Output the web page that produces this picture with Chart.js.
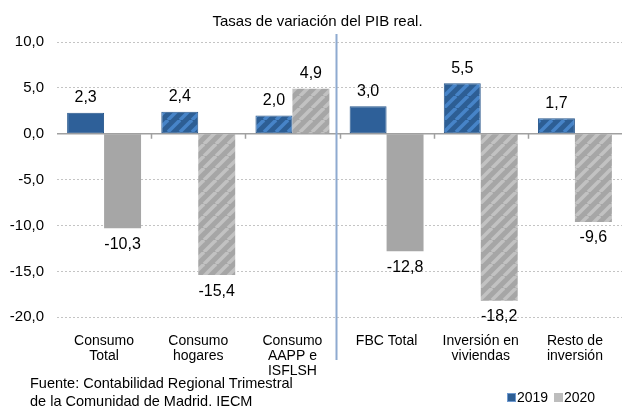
<!DOCTYPE html>
<html>
<head>
<meta charset="utf-8">
<script src="https://cdn.jsdelivr.net/npm/chart.js@4"></script>
<style>
  html, body { margin: 0; padding: 0; background: #fff; }
  #wrap { position: relative; width: 622px; height: 409px; overflow: hidden; }
  #src { position: absolute; left: 30px; top: 375px; font: 14.5px "Liberation Sans", Arial, sans-serif; line-height: 17.5px; color: #000; }
</style>
</head>
<body>
<div id="wrap">
  <canvas id="chart" width="622" height="409"></canvas>
  <div id="src">Fuente: Contabilidad Regional Trimestral<br>de la Comunidad de Madrid. IECM</div>
</div>
<script>
// data
const categories = [
  ["Consumo", "Total"],
  ["Consumo", "hogares"],
  ["Consumo", "AAPP e", "ISFLSH"],
  ["FBC Total"],
  ["Inversión en", "viviendas"],
  ["Resto de", "inversión"],
];
const values2019 = [2.3, 2.4, 2.0, 3.0, 5.5, 1.7];
const values2020 = [-10.3, -15.4, 4.9, -12.8, -18.2, -9.6];
const striped = [false, true, true, false, true, true];
const yTicks = [10, 5, 0, -5, -10, -15, -20];

const FONT = '"Liberation Sans", Arial, sans-serif';

function stripes(base, line) {
  const c = document.createElement("canvas");
  c.width = 12; c.height = 12;
  const g = c.getContext("2d");
  g.fillStyle = base;
  g.fillRect(0, 0, 12, 12);
  g.strokeStyle = line;
  g.lineWidth = 3.5;
  for (const o of [-12, 0, 12]) {
    g.beginPath();
    g.moveTo(o, 12);
    g.lineTo(o + 12, 0);
    g.stroke();
  }
  return g.createPattern(c, "repeat");
}

const ctx = document.getElementById("chart").getContext("2d");
const bluePat = stripes("#2d5e94", "#4784c8");
const grayPat = stripes("#a6a6a6", "#c2c2c2");

const fmt = (v) => v.toFixed(1).replace(".", ",");

// ── labels on the bars, separator, zero line, legend
const extras = {
  id: "extras",
  beforeDatasetsDraw(chart) {
    const { ctx, scales: { x, y }, chartArea } = chart;
    const y0 = y.getPixelForValue(0);
    ctx.save();
    ctx.strokeStyle = "#a0a0a0";
    ctx.lineWidth = 1.5;
    ctx.beginPath();
    ctx.moveTo(chartArea.left, y0);
    ctx.lineTo(chartArea.right, y0);
    for (let i = 0; i < categories.length - 1; i++) {
      const bx = Math.round((x.getPixelForValue(i) + x.getPixelForValue(i + 1)) / 2) + 0.5;
      ctx.moveTo(bx, y0);
      ctx.lineTo(bx, y0 + 5);
    }
    ctx.stroke();
    ctx.restore();
  },
  afterDatasetsDraw(chart) {
    const { ctx, scales: { x } } = chart;
    ctx.save();
    ctx.font = "16px " + FONT;
    ctx.fillStyle = "#000";
    ctx.textAlign = "center";
    ctx.textBaseline = "middle";
    chart.data.datasets.forEach((ds, di) => {
      chart.getDatasetMeta(di).data.forEach((el, i) => {
        const v = ds.data[i];
        ctx.fillText(fmt(v), el.x, v >= 0 ? el.y - 15 : el.y + 16);
      });
    });
    // separator between consumo and inversión
    const sx = (x.getPixelForValue(2) + x.getPixelForValue(3)) / 2 - 3;
    ctx.strokeStyle = "#8eaad0";
    ctx.lineWidth = 2;
    ctx.beginPath();
    ctx.moveTo(sx, 34);
    ctx.lineTo(sx, 360);
    ctx.stroke();
    // legend
    ctx.font = "14px " + FONT;
    ctx.textAlign = "left";
    ctx.fillStyle = "#2d5e94";
    ctx.fillRect(507, 393, 9, 9);
    ctx.strokeStyle = "#6f9ad0";
    ctx.lineWidth = 1;
    ctx.strokeRect(507.5, 393.5, 8, 8);
    ctx.fillStyle = "#000";
    ctx.fillText("2019", 517, 398);
    ctx.fillStyle = "#bdbdbd";
    ctx.fillRect(554, 393, 9, 9);
    ctx.fillStyle = "#000";
    ctx.fillText("2020", 564, 398);
    ctx.restore();
  },
};

new Chart(ctx, {
  type: "bar",
  data: {
    labels: categories,
    datasets: [
      {
        label: "2019",
        data: values2019,
        backgroundColor: striped.map((s) => (s ? bluePat : "#2e6099")),
        borderColor: "#28578c",
        borderWidth: 1,
        borderSkipped: false,
      },
      {
        label: "2020",
        data: values2020,
        backgroundColor: striped.map((s) => (s ? grayPat : "#a6a6a6")),
        borderWidth: 0,
      },
    ],
  },
  options: {
    responsive: false,
    animation: false,
    categoryPercentage: 0.785,
    barPercentage: 1,
    layout: { padding: { left: 9, right: -4, top: 0, bottom: 14 } },
    plugins: {
      legend: { display: false },
      tooltip: { enabled: false },
      title: {
        display: true,
        text: "Tasas de variación del PIB real.",
        color: "#000",
        font: { family: FONT, size: 15, weight: "normal" },
        padding: { top: 13, bottom: 11 },
      },
    },
    scales: {
      x: {
        grid: { display: false, drawTicks: false },
        border: { display: false },
        afterFit: (axis) => {
          axis.paddingLeft = 0;
          axis.paddingRight = 0;
        },
        ticks: {
          color: "#000",
          font: { family: FONT, size: 14, lineHeight: 1.04 },
          padding: 17,
          maxRotation: 0,
          autoSkip: false,
        },
      },
      y: {
        min: -20,
        max: 10,
        afterBuildTicks: (axis) => {
          axis.ticks = yTicks.map((v) => ({ value: v }));
        },
        afterFit: (axis) => {
          axis.width = 48;
        },
        grid: {
          drawTicks: false,
          color: (c) => (c.tick && c.tick.value === 0 ? "rgba(0,0,0,0)" : "#c4c4c4"),
        },
        border: { display: false, dash: [2, 2] },
        ticks: {
          color: "#000",
          font: { family: FONT, size: 15 },
          padding: 13,
          callback: (v) => fmt(v),
        },
      },
    },
  },
  plugins: [extras],
});
</script>
</body>
</html>
